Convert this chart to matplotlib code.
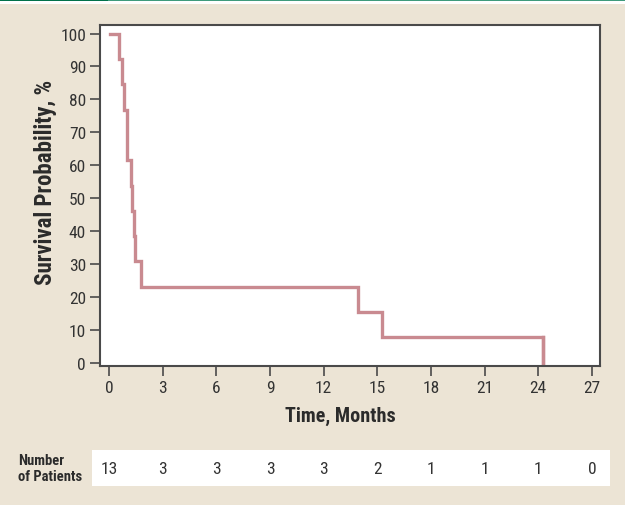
import matplotlib
matplotlib.use("Agg", force=True)

import matplotlib.pyplot as plt
import matplotlib.transforms as mtransforms
from matplotlib.patches import Rectangle

# Kaplan-Meier step data (months, survival %)
times = [0.06, 0.56, 0.71, 0.84, 0.99, 1.23, 1.30, 1.38, 1.44, 1.81, 13.9, 15.24, 24.28]
survival = [100, 92.3, 84.6, 76.9, 61.5, 53.8, 46.2, 38.5, 30.8, 23.1, 15.4, 7.7, 0]

x_ticks = [0, 3, 6, 9, 12, 15, 18, 21, 24, 27]
y_ticks = [0, 10, 20, 30, 40, 50, 60, 70, 80, 90, 100]
at_risk = [13, 3, 3, 3, 3, 2, 1, 1, 1, 0]

BG = "#ece4d5"
LINE = "#c98a90"
AXC = "#4a4a4a"
TXT = "#333333"

plt.rcParams["font.family"] = ["Roboto Condensed", "Liberation Sans Narrow", "Liberation Sans", "DejaVu Sans"]

fig = plt.figure(figsize=(6.25, 5.06), dpi=100)
fig.patch.set_facecolor(BG)

# top rule
fig.patches.append(Rectangle((0, 1 - 4.5 / 506), 1, 4.5 / 506, transform=fig.transFigure,
                             facecolor="white", edgecolor="none", zorder=-3))
fig.patches.append(Rectangle((0, 1 - 1.8 / 506), 1, 1.8 / 506, transform=fig.transFigure,
                             facecolor="#3e9a7c", edgecolor="none", zorder=-2))
fig.patches.append(Rectangle((0, 1 - 1.8 / 506), 108 / 625, 1.8 / 506, transform=fig.transFigure,
                             facecolor="#00714a", edgecolor="none", zorder=-1))

ax = fig.add_axes([100 / 625, 1 - 367 / 506, 500 / 625, 341 / 506])
ax.set_facecolor("white")

ax.step(times, survival, where="post", color=LINE, lw=2.4, solid_joinstyle="miter")
ax.plot([times[-1], times[-1]], [survival[-2], survival[-1]], color=LINE, lw=2.4)

ax.set_xlim(-0.5, 27.45)
ax.set_ylim(-1.06, 102.6)
ax.set_xticks(x_ticks)
ax.set_yticks(y_ticks)
ax.tick_params(direction="out", length=7, width=1.2, color=AXC, labelsize=12.5,
               labelcolor=TXT, pad=3)
for s in ax.spines.values():
    s.set_color(AXC)
    s.set_linewidth(1.5)

ax.set_xlabel("Time, Months", fontsize=14.5, fontweight="bold", color="#2b2b2b")
ax.set_ylabel("Survival Probability, %", fontsize=16.5, fontweight="bold", color="#2b2b2b")
ax.xaxis.set_label_coords(0.48, -0.117)
ax.yaxis.set_label_coords(-0.086, 0.54)

# number at risk table
fig.patches.append(Rectangle((92 / 625, 1 - 487 / 506), 518 / 625, 36 / 506,
                             transform=fig.transFigure, facecolor="white", edgecolor="none",
                             zorder=-1))
trans = mtransforms.blended_transform_factory(ax.transData, fig.transFigure)
for t, n in zip(x_ticks, at_risk):
    fig.text(t, 1 - 470 / 506, str(n), transform=trans, ha="center", va="center",
             fontsize=12.5, color=TXT, zorder=5)
fig.text(18 / 625, 1 - 469 / 506, "Number\nof Patients", ha="left", va="center",
         fontsize=10.5, fontweight="bold", color="#2b2b2b", linespacing=1.25)

fig.savefig("out.png", dpi=100, facecolor=fig.get_facecolor())
